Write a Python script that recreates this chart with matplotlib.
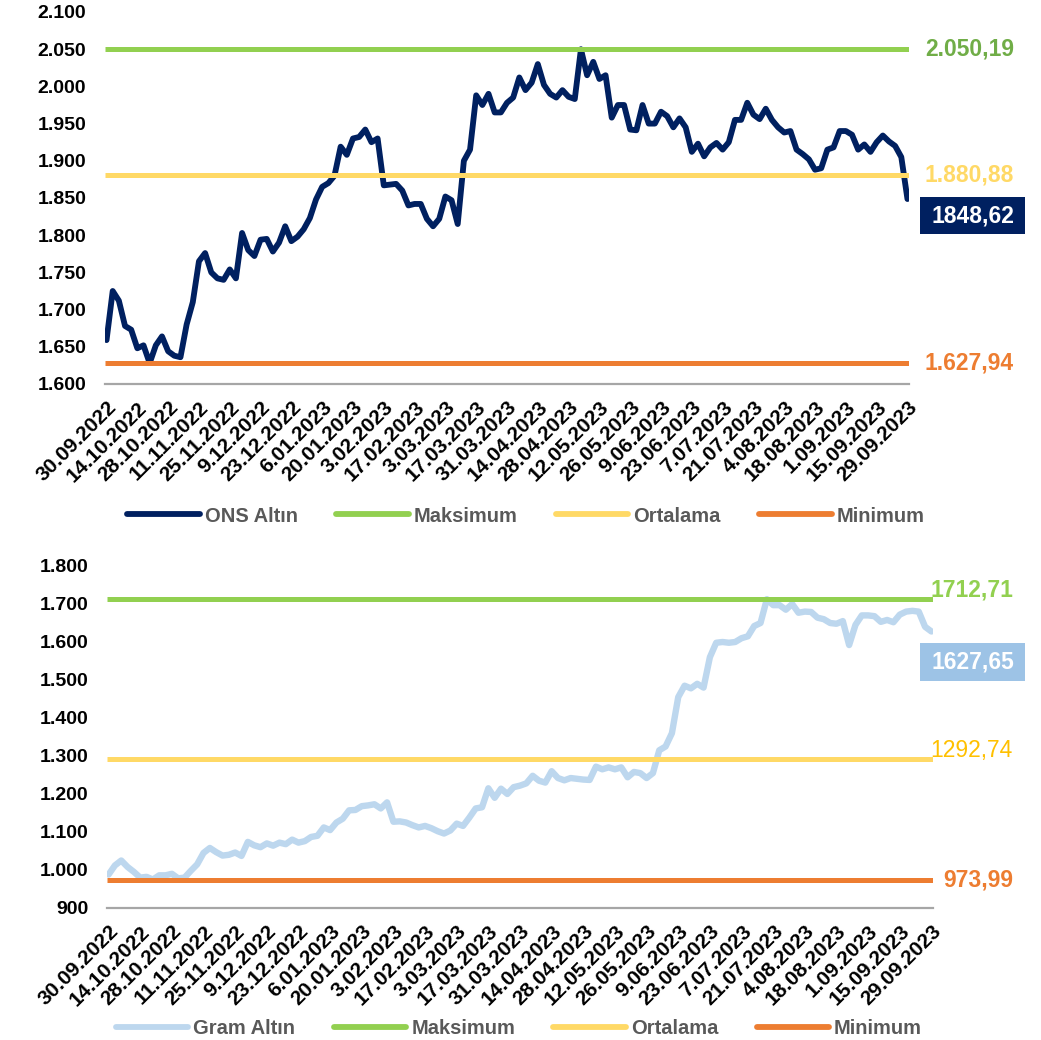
import matplotlib
matplotlib.use("Agg")
import matplotlib.pyplot as plt
from matplotlib.lines import Line2D
from matplotlib.patches import Rectangle
from matplotlib.transforms import blended_transform_factory

plt.rcParams["font.family"] = ["Liberation Sans", "DejaVu Sans"]

# Tick labels: one every 10 business days (every 5th sample below)
date_labels = [
    "30.09.2022", "14.10.2022", "28.10.2022", "11.11.2022", "25.11.2022",
    "9.12.2022", "23.12.2022", "6.01.2023", "20.01.2023", "3.02.2023",
    "17.02.2023", "3.03.2023", "17.03.2023", "31.03.2023", "14.04.2023",
    "28.04.2023", "12.05.2023", "26.05.2023", "9.06.2023", "23.06.2023",
    "7.07.2023", "21.07.2023", "4.08.2023", "18.08.2023", "1.09.2023",
    "15.09.2023", "29.09.2023",
]

# Ounce gold (USD), sampled every 2 business days
ons = [
    1659, 1725, 1712, 1678, 1673, 1648, 1652, 1628, 1652, 1664,
    1644, 1638, 1636, 1680, 1710, 1765, 1776, 1750, 1742, 1740,
    1754, 1742, 1803, 1780, 1772, 1794, 1795, 1778, 1790, 1812,
    1792, 1798, 1808, 1823, 1848, 1865, 1870, 1880, 1919, 1908,
    1930, 1932, 1942, 1925, 1930, 1867, 1868, 1869, 1860, 1840,
    1842, 1842, 1822, 1812, 1822, 1852, 1847, 1815, 1900, 1915,
    1988, 1975, 1990, 1965, 1965, 1978, 1985, 2012, 1995, 2005,
    2030, 2002, 1990, 1985, 1995, 1986, 1983, 2050, 2015, 2033,
    2010, 2015, 1958, 1975, 1975, 1942, 1941, 1975, 1950, 1950,
    1966, 1960, 1945, 1957, 1945, 1912, 1923, 1906, 1918, 1924,
    1915, 1925, 1955, 1955, 1978, 1962, 1956, 1970, 1955, 1945,
    1938, 1940, 1915, 1909, 1902, 1888, 1890, 1915, 1918, 1940,
    1940, 1935, 1915, 1922, 1912, 1925, 1934, 1926, 1920, 1905,
    1848.62,
]

# Gram gold (TRY), sampled every 2 business days
gram = [
    988, 1012, 1025, 1008, 995, 980, 982, 975, 986, 986,
    990, 978, 980, 998, 1015, 1045, 1058, 1047, 1038, 1040,
    1046, 1037, 1074, 1065, 1060, 1070, 1064, 1072, 1068, 1080,
    1072, 1076, 1087, 1090, 1112, 1105, 1125, 1135, 1157, 1158,
    1168, 1170, 1173, 1162, 1178, 1127, 1128, 1125, 1118, 1112,
    1116, 1110, 1102, 1096, 1104, 1122, 1116, 1138, 1162, 1165,
    1215, 1190, 1214, 1200, 1218, 1222, 1228, 1248, 1235, 1230,
    1260, 1242, 1236, 1242, 1240, 1238, 1237, 1272, 1265, 1270,
    1265, 1270, 1244, 1258, 1255, 1242, 1255, 1315, 1325, 1360,
    1455, 1485, 1478, 1490, 1480, 1560, 1598, 1600, 1598, 1600,
    1610, 1615, 1642, 1650, 1712.71, 1697, 1697, 1685, 1700, 1677,
    1680, 1679, 1664, 1660, 1650, 1648, 1655, 1592, 1645, 1670,
    1670, 1668, 1653, 1658, 1652, 1672, 1680, 1682, 1680, 1640,
    1627.65,
]

ons_max, ons_avg, ons_min = 2050.19, 1880.88, 1627.94
gram_max, gram_avg, gram_min = 1712.71, 1292.74, 973.99

ons_ticks = [1600, 1650, 1700, 1750, 1800, 1850, 1900, 1950, 2000, 2050, 2100]
gram_ticks = [900, 1000, 1100, 1200, 1300, 1400, 1500, 1600, 1700, 1800]

NAVY = "#002060"
GREEN = "#92D050"
GREEN_TXT = "#70AD47"
YELLOW = "#FFD966"
YELLOW_TXT = "#FFC000"
ORANGE = "#ED7D31"
LIGHT = "#BDD7EE"
BOXBLUE = "#9DC3E6"
AXIS = "#A6A6A6"
LEGEND_TXT = "#595959"

legend_names_top = ["ONS Altın", "Maksimum", "Ortalama", "Minimum"]
legend_names_bottom = ["Gram Altın", "Maksimum", "Ortalama", "Minimum"]


def thousands(v):
    return f"{v:,.0f}".replace(",", ".")


def tr_decimal(v, sep=True):
    s = f"{v:,.2f}" if sep else f"{v:.2f}"
    return s.replace(",", "X").replace(".", ",").replace("X", ".")


W, H = 1041, 1040
fig = plt.figure(figsize=(W / 100, H / 100), dpi=100)
fig.patch.set_facecolor("white")

ax1 = fig.add_axes([105 / W, 1 - 384 / H, 804 / W, 372 / H])
ax2 = fig.add_axes([107 / W, 1 - 908 / H, 826 / W, 342 / H])


def style_axis(ax, series, color, lw, ticks, ymin, ymax, refs):
    x = list(range(len(series)))
    ax.plot(x, series, color=color, lw=lw, solid_joinstyle="round",
            solid_capstyle="round", zorder=3)
    for val, col in refs:
        ax.axhline(val, color=col, lw=3.6, zorder=4, solid_capstyle="butt")
    ax.set_xlim(-0.25, len(series) - 0.75)
    ax.set_ylim(ymin, ymax)
    ax.set_yticks(ticks)
    ax.set_yticklabels([thousands(t) for t in ticks], fontsize=14,
                       fontweight="bold", color="black")
    tick_pos = list(range(0, len(series), 5))
    ax.set_xticks(tick_pos)
    ax.set_xticklabels(date_labels, rotation=45, ha="right", va="top",
                       rotation_mode="anchor", fontsize=15, fontweight="bold")
    ax.tick_params(axis="both", length=0)
    ax.tick_params(axis="y", pad=13.5)
    ax.tick_params(axis="x", pad=10)
    for s in ("top", "right", "left"):
        ax.spines[s].set_visible(False)
    ax.spines["bottom"].set_color(AXIS)
    ax.spines["bottom"].set_linewidth(1.6)
    ax.set_facecolor("white")


style_axis(ax1, ons, NAVY, 4.2, ons_ticks, 1600, 2100,
           [(ons_max, GREEN), (ons_avg, YELLOW), (ons_min, ORANGE)])
style_axis(ax2, gram, LIGHT, 4.6, gram_ticks, 900, 1800,
           [(gram_max, GREEN), (gram_avg, YELLOW), (gram_min, ORANGE)])

# Right-hand value labels, top panel
t1 = blended_transform_factory(ax1.transAxes, ax1.transData)
xl = 1 + 16 / 804
ax1.text(xl, ons_max, tr_decimal(ons_max), transform=t1, color=GREEN_TXT,
         fontsize=16.5, fontweight="bold", va="center", ha="left")
ax1.text(xl, ons_avg, tr_decimal(ons_avg), transform=t1, color=YELLOW,
         fontsize=16.5, fontweight="bold", va="center", ha="left")
ax1.text(xl, ons_min, tr_decimal(ons_min), transform=t1, color=ORANGE,
         fontsize=16.5, fontweight="bold", va="center", ha="left")
last = ons[-1]
ax1.add_patch(Rectangle((1 + 11 / 804, last + 2.7), 105 / 804, -49.7,
                        transform=t1, facecolor=NAVY, edgecolor="none",
                        clip_on=False, zorder=5))
ax1.text(1 + 63.5 / 804, last - 22.2, tr_decimal(last, sep=False),
         transform=t1, color="white", fontsize=16.5, fontweight="bold",
         va="center", ha="center", zorder=6)

# Right-hand value labels, bottom panel
t2 = blended_transform_factory(ax2.transAxes, ax2.transData)
ax2.text(1 - 3 / 826, gram_max + 24, tr_decimal(gram_max, sep=False),
         transform=t2, color=GREEN, fontsize=16.5, fontweight="bold",
         va="center", ha="left")
ax2.text(1 - 3 / 826, gram_avg + 23, tr_decimal(gram_avg, sep=False),
         transform=t2, color=YELLOW_TXT, fontsize=16.5,
         va="center", ha="left")
ax2.text(1 + 10 / 826, gram_min, tr_decimal(gram_min, sep=False),
         transform=t2, color=ORANGE, fontsize=16.5, fontweight="bold",
         va="center", ha="left")
glast = gram[-1]
ax2.add_patch(Rectangle((1 - 13 / 826, glast - 30.3), 105 / 826, -100,
                        transform=t2, facecolor=BOXBLUE, edgecolor="none",
                        clip_on=False, zorder=5))
ax2.text(1 + 39.5 / 826, glast - 80.3, tr_decimal(glast, sep=False),
         transform=t2, color="white", fontsize=16.5, fontweight="bold",
         va="center", ha="center", zorder=6)


def add_legend(names, colors, center):
    handles = [Line2D([], [], color=c, lw=4.2, solid_capstyle="round")
               for c in colors]
    leg = fig.legend(handles, names, loc="center", bbox_to_anchor=center,
                     ncol=4, frameon=False, handlelength=3.6,
                     handletextpad=0.25, columnspacing=1.9,
                     prop={"weight": "bold", "size": 14.5})
    for t in leg.get_texts():
        t.set_color(LEGEND_TXT)


add_legend(legend_names_top, [NAVY, GREEN, YELLOW, ORANGE],
           (526 / W, 1 - 516 / H))
add_legend(legend_names_bottom, [LIGHT, GREEN, YELLOW, ORANGE],
           (519 / W, 1 - 1029 / H))

fig.savefig("out.png", dpi=100, facecolor="white")
